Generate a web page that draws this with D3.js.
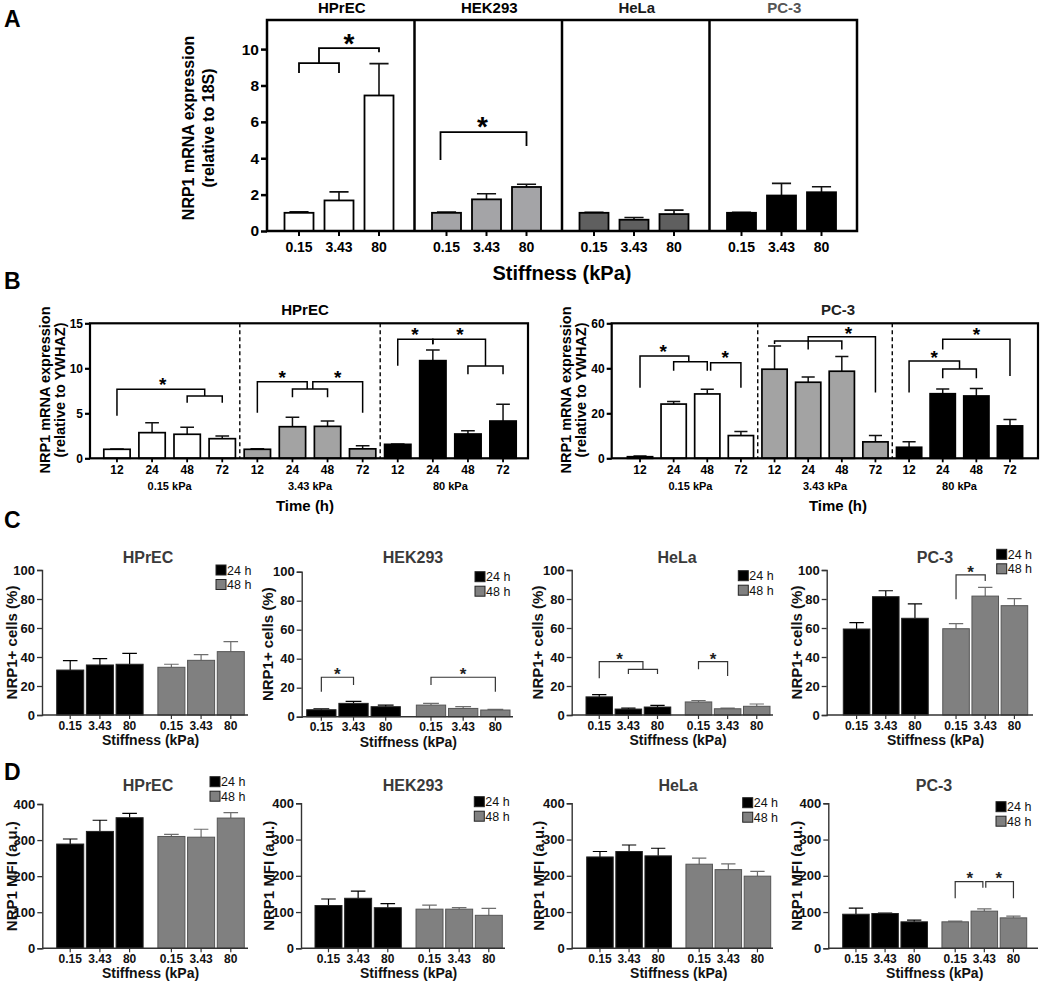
<!DOCTYPE html>
<html><head><meta charset="utf-8">
<script src="https://cdn.jsdelivr.net/npm/d3@7"></script>
<style>
body{margin:0;background:#fff}
svg{display:block}
text{font-family:"Liberation Sans",Arial,Helvetica,sans-serif}
</style>
</head><body>
<svg id="c" width="1059" height="985"></svg>
<script>
// ================= DATA =================
const stiffness = ["0.15","3.43","80"];
const cellLines = ["HPrEC","HEK293","HeLa","PC-3"];
const times = ["12","24","48","72"];
const bGroups = ["0.15 kPa","3.43 kPa","80 kPa"];
const hours = ["24 h","48 h"];

// Panel A : mean and upper error (top of SEM bar)
const aHPrEC = [1.0, 1.68, 7.45],  aHPrECErr = [1.05, 2.15, 9.2];
const aHEK293 = [1.0, 1.74, 2.42], aHEK293Err = [1.04, 2.05, 2.57];
const aHeLa = [1.0, 0.62, 0.93],   aHeLaErr = [1.03, 0.74, 1.15];
const aPC3 = [1.0, 1.95, 2.13],    aPC3Err = [1.03, 2.62, 2.43];
const aTicks = [0, 2, 4, 6, 8, 10];

// Panel B : HPrEC, times 12/24/48/72 per stiffness
const bHPrEC015 = [1.0, 2.85, 2.67, 2.18], bHPrEC015Err = [1.03, 3.96, 3.44, 2.48];
const bHPrEC343 = [1.0, 3.51, 3.55, 1.05], bHPrEC343Err = [1.05, 4.55, 4.14, 1.4];
const bHPrEC80  = [1.55, 10.85, 2.7, 4.14], bHPrEC80Err = [1.6, 12.03, 3.07, 6.0];
// Panel B : PC-3
const bPC3015 = [0.7, 24.1, 28.6, 10.1], bPC3015Err = [1.0, 25.2, 30.7, 11.9];
const bPC3343 = [39.6, 33.8, 38.7, 7.3], bPC3343Err = [49.9, 36.1, 45.2, 10.1];
const bPC380  = [4.9, 28.7, 27.7, 14.4], bPC380Err = [7.4, 30.8, 31.0, 17.3];
const bHPrECTicks = [0, 5, 10, 15];
const bPC3Ticks = [0, 20, 40, 60];

// Panel C : NRP1+ cells (%)
const cHPrEC24 = [31, 34.5, 35],   cHPrEC24Err = [37.5, 38.9, 42.5];
const cHPrEC48 = [32.9, 37.7, 43.7], cHPrEC48Err = [35, 41.6, 50.6];
const cHEK24 = [4.8, 9.2, 6.9],    cHEK24Err = [5.5, 10.6, 8.0];
const cHEK48 = [8.0, 5.7, 4.6],    cHEK48Err = [9.2, 6.9, 5.0];
const cHeLa24 = [12.5, 4.1, 5.5],  cHeLa24Err = [14.0, 4.8, 6.7];
const cHeLa48 = [9.0, 4.3, 6.0],   cHeLa48Err = [10.0, 4.8, 7.6];
const cPC324 = [59.3, 81.6, 66.7], cPC324Err = [63.7, 85.7, 76.6];
const cPC348 = [59.5, 82.0, 75.4], cPC348Err = [63.0, 88.0, 80.2];
const cTicks = [0, 20, 40, 60, 80, 100];

// Panel D : NRP1 MFI (a.u.)
const dHPrEC24 = [289, 324, 362], dHPrEC24Err = [303, 355, 374];
const dHPrEC48 = [310, 308, 361], dHPrEC48Err = [316, 330, 376];
const dHEK24 = [118, 138, 112],   dHEK24Err = [136, 158, 123];
const dHEK48 = [108, 108, 91],    dHEK48Err = [119, 112, 110];
const dHeLa24 = [252, 267, 255],  dHeLa24Err = [267, 285, 276];
const dHeLa48 = [232, 217, 199],  dHeLa48Err = [249, 233, 212];
const dPC324 = [94, 96, 73],      dPC324Err = [111, 97, 77.5];
const dPC348 = [73, 102.5, 84],   dPC348Err = [75, 109, 88.5];
const dTicks = [0, 100, 200, 300, 400];

// Significance brackets: polylines of [bar index, value]; stars: [bar index, value]
const sigAHPrEC = [[[0,8.68],[0,9.23],[1,9.23],[1,8.68]], [[0.5,9.23],[0.5,10.05],[2,10.05],[2,9.83]]];
const starAHPrEC = [[1.25,10.66]];
const sigAHEK = [[[-0.15,3.9],[-0.15,5.44],[2,5.44],[2,4.67]]];
const starAHEK = [[0.9,6.1]];

const sigBHPrEC = [
  [[0,4.73],[0,7.67],[2.5,7.67],[2.5,6.92]],
  [[2,6.18],[2,6.92],[3,6.92],[3,6.18]],
  [[4,5.07],[4,8.51],[5.42,8.51],[5.42,7.7]],
  [[5,6.78],[5,7.7],[6,7.7],[6,6.78]],
  [[5.58,7.7],[5.58,8.51],[7,8.51],[7,5.07]],
  [[8,10.29],[8,13.22],[9,13.22],[9,12.67]],
  [[9,12.67],[9,13.22],[10.5,13.22],[10.5,10.26]],
  [[10,9.33],[10,10.26],[11,10.26],[11,9.33]]
];
const starBHPrEC = [[1.3,8.7],[4.71,9.48],[6.29,9.48],[8.49,14.26],[9.77,14.26]];
const sigBPC3 = [
  [[0,31.4],[0,45.5],[1.45,45.5],[1.45,42.9]],
  [[1,38.9],[1,42.9],[2,42.9],[2,38.9]],
  [[2.1,38.9],[2.1,42.5],[3,42.5],[3,31.4]],
  [[4,50.8],[4,52.1],[6,52.1],[6,48.4]],
  [[5,48.4],[5,54.0],[7,54.0],[7,29.2]],
  [[8,29.2],[8,43.2],[9.5,43.2],[9.5,39.7]],
  [[9,35.6],[9,39.7],[10,39.7],[10,35.6]],
  [[9,48.4],[9,52.9],[11,52.9],[11,36.6]]
];
const starBPC3 = [[0.69,49.3],[2.53,46.7],[6.2,57.4],[8.75,46.7],[10,57.0]];

const sigCHEK = [[[0,17.2],[0,27.2],[1,27.2],[1,21.9]], [[3,21.9],[3,27.2],[5,27.2],[5,17.2]]];
const starCHEK = [[0.5,31.7],[4,31.7]];
const sigCHeLa = [[[0,25.3],[0,36.8],[1.5,36.8],[1.5,31.5]], [[1,28.3],[1,31.5],[2,31.5],[2,28.3]], [[3,31.5],[3,36.8],[4,36.8],[4,26.9]]];
const starCHeLa = [[0.7,41.4],[3.5,41.4]];
const sigCPC3 = [[[3,79.8],[3,96.6],[4,96.6],[4,92.4]]];
const starCPC3 = [[3.5,101.2]];
const sigDPC3 = [[[3,137.9],[3,183.7],[3.95,183.7],[3.95,167.2]], [[4.05,167.2],[4.05,183.7],[5,183.7],[5,137.9]]];
const starDPC3 = [[3.5,205],[4.5,205]];

// ================= DRAWING =================
const svg = d3.select("#c");

function txt(g, x, y, s, o = {}) {
  return g.append("text").attr("x", x).attr("y", y).text(s)
    .attr("font-size", o.size || 12).attr("font-weight", o.weight || "bold")
    .attr("text-anchor", o.anchor || "middle").attr("fill", o.fill || "#000");
}
function vtxt(g, x, y, s, o = {}) {
  return g.append("text").attr("transform", `translate(${x},${y}) rotate(-90)`)
    .attr("dy", "0.35em").text(s)
    .attr("font-size", o.size || 12).attr("font-weight", o.weight || "bold")
    .attr("text-anchor", "middle").attr("fill", o.fill || "#000");
}
function star(g, x, cy, fs, fill) {
  txt(g, x, cy + 0.57 * fs, "*", {size: fs, fill: fill || "#000"});
}
const line = d3.line();

// panel letters
txt(svg, 4, 27, "A", {size: 23, anchor: "start"});
txt(svg, 4, 289, "B", {size: 23, anchor: "start"});
txt(svg, 4, 528, "C", {size: 23, anchor: "start"});
txt(svg, 4, 780, "D", {size: 23, anchor: "start"});

// ---------- Panel A ----------
(function() {
  const g = svg.append("g");
  const L = 267, R = 857, T = 20, B = 231;
  const y = d3.scaleLinear().domain([0, 11.6]).range([B, T]);
  const p = d3.scaleBand().domain(cellLines).range([L, R]);
  const series = [
    {m: aHPrEC, e: aHPrECErr, fill: "#fff", tcol: "#000", sig: sigAHPrEC, stars: starAHPrEC},
    {m: aHEK293, e: aHEK293Err, fill: "#a4a4a7", tcol: "#000", sig: sigAHEK, stars: starAHEK},
    {m: aHeLa, e: aHeLaErr, fill: "#5f5f5f", tcol: "#1a1a1a", sig: [], stars: []},
    {m: aPC3, e: aPC3Err, fill: "#000", tcol: "#555", sig: [], stars: []}
  ];
  series.forEach((s, si) => {
    const pl = p(cellLines[si]);
    const x = d3.scaleBand().domain(stiffness).range([pl + 17.5, pl + 126.5]).paddingInner(0.275);
    const bw = x.bandwidth();
    const cx = i => x(stiffness[0]) + bw / 2 + i * x.step();
    g.selectAll(null).data(stiffness).enter().append("path")
      .attr("d", (k, i) => line([[cx(i), y(s.m[i])], [cx(i), y(s.e[i])]]) + "M" + (cx(i) - bw * 0.33) + "," + y(s.e[i]) + "H" + (cx(i) + bw * 0.33))
      .attr("stroke", "#111").attr("stroke-width", 1.6).attr("fill", "none");
    g.selectAll(null).data(stiffness).enter().append("rect")
      .attr("x", k => x(k)).attr("width", bw)
      .attr("y", (k, i) => y(s.m[i])).attr("height", (k, i) => y(0) - y(s.m[i]))
      .attr("fill", s.fill).attr("stroke", "#000").attr("stroke-width", 1.8);
    stiffness.forEach((k, i) => {
      g.append("line").attr("x1", cx(i)).attr("x2", cx(i)).attr("y1", B).attr("y2", B + 5)
        .attr("stroke", "#000").attr("stroke-width", 2);
      txt(g, cx(i), 252, k, {size: 14});
    });
    s.sig.forEach(pl2 => g.append("path").attr("d", line(pl2.map(d => [cx(d[0]), y(d[1])])))
      .attr("fill", "none").attr("stroke", "#000").attr("stroke-width", 1.8));
    s.stars.forEach(d => star(g, cx(d[0]), y(d[1]), 28));
    txt(g, pl + p.bandwidth() / 2 + 1, 13, cellLines[si], {size: 15, fill: s.tcol});
  });
  g.append("rect").attr("x", L).attr("y", T).attr("width", R - L).attr("height", B - T)
    .attr("fill", "none").attr("stroke", "#000").attr("stroke-width", 2.5);
  cellLines.slice(1).forEach(c => g.append("line").attr("x1", p(c)).attr("x2", p(c))
    .attr("y1", T).attr("y2", B).attr("stroke", "#000").attr("stroke-width", 2.5));
  const ax = g.append("g").attr("transform", `translate(${L},0)`)
    .call(d3.axisLeft(y).tickValues(aTicks).tickSize(6).tickPadding(2));
  ax.select(".domain").remove();
  ax.selectAll(".tick line").attr("stroke-width", 2.5);
  ax.selectAll("text").attr("font-size", 15.5).attr("font-weight", "bold")
    .attr("font-family", '"Liberation Sans",Arial,sans-serif');
  txt(g, 562, 280, "Stiffness (kPa)", {size: 20});
  vtxt(g, 188, 128, "NRP1 mRNA expression", {size: 16});
  vtxt(g, 208, 128, "(relative to 18S)", {size: 16});
})();

// ---------- Panel B ----------
function drawB(c) {
  const g = svg.append("g");
  const y = d3.scaleLinear().domain([0, c.ymax]).range([c.B, c.T]);
  const idx = d3.range(12);
  const x = d3.scaleBand().domain(idx).range([c.rL, c.rR]).paddingInner(0.25);
  const bw = x.bandwidth();
  const cx = i => x(0) + bw / 2 + i * x.step();
  const cols = ["#fff", "#a3a3a3", "#000"];
  const bars = [];
  c.series.forEach((s, gi) => s[0].forEach((v, ti) => bars.push({i: gi * 4 + ti, v, e: s[1][ti], fill: cols[gi], t: times[ti]})));
  g.selectAll(null).data(bars).enter().append("path")
    .attr("d", d => `M${cx(d.i)},${y(d.v)}V${y(d.e)}M${cx(d.i) - bw * 0.26},${y(d.e)}H${cx(d.i) + bw * 0.26}`)
    .attr("stroke", "#111").attr("stroke-width", 1.5).attr("fill", "none");
  g.selectAll(null).data(bars).enter().append("rect")
    .attr("x", d => x(d.i)).attr("width", bw)
    .attr("y", d => y(d.v)).attr("height", d => y(0) - y(d.v))
    .attr("fill", d => d.fill).attr("stroke", "#000").attr("stroke-width", 1.7);
  bars.forEach(d => {
    g.append("line").attr("x1", cx(d.i)).attr("x2", cx(d.i)).attr("y1", c.B).attr("y2", c.B + 4)
      .attr("stroke", "#000").attr("stroke-width", 1.8);
    txt(g, cx(d.i), 474, d.t, {size: 12});
  });
  bGroups.forEach((gl, gi) => txt(g, cx(gi * 4 + 1.5), 490, gl, {size: 11}));
  [3.5, 7.5].forEach(v => g.append("line").attr("x1", cx(v)).attr("x2", cx(v))
    .attr("y1", c.T).attr("y2", c.B).attr("stroke", "#000").attr("stroke-width", 1.4)
    .attr("stroke-dasharray", "4,3"));
  c.sig.forEach(pl => g.append("path").attr("d", line(pl.map(d => [cx(d[0]), y(d[1])])))
    .attr("fill", "none").attr("stroke", "#000").attr("stroke-width", 1.5));
  c.stars.forEach(d => star(g, cx(d[0]), y(d[1]), 19));
  g.append("rect").attr("x", c.L).attr("y", c.T).attr("width", c.R - c.L).attr("height", c.B - c.T)
    .attr("fill", "none").attr("stroke", "#000").attr("stroke-width", 2.2);
  const ax = g.append("g").attr("transform", `translate(${c.L},0)`)
    .call(d3.axisLeft(y).tickValues(c.ticks).tickSize(5).tickPadding(2));
  ax.select(".domain").remove();
  ax.selectAll(".tick line").attr("stroke-width", 2.2);
  ax.selectAll("text").attr("font-size", 12).attr("font-weight", "bold")
    .attr("font-family", '"Liberation Sans",Arial,sans-serif');
  txt(g, c.titleX, 315, c.title, {size: 15, fill: c.tcol});
  txt(g, c.titleX, 511, "Time (h)", {size: 15});
  vtxt(g, c.ylx[0], 390, "NRP1 mRNA expression", {size: 14.5});
  vtxt(g, c.ylx[1], 390, "(relative to YWHAZ)", {size: 14.5});
}
drawB({L: 90, R: 528, T: 323.3, B: 458.3, rL: 103.8, rR: 516.2, ymax: 15, ticks: bHPrECTicks,
  series: [[bHPrEC015, bHPrEC015Err], [bHPrEC343, bHPrEC343Err], [bHPrEC80, bHPrEC80Err]],
  sig: sigBHPrEC, stars: starBHPrEC, title: "HPrEC", titleX: 305, tcol: "#000", ylx: [45, 60]});
drawB({L: 611.7, R: 1038, T: 323.3, B: 458.3, rL: 627.4, rR: 1022.6, ymax: 60, ticks: bPC3Ticks,
  series: [[bPC3015, bPC3015Err], [bPC3343, bPC3343Err], [bPC380, bPC380Err]],
  sig: sigBPC3, stars: starBPC3, title: "PC-3", titleX: 838, tcol: "#222", ylx: [566, 581]});

// ---------- Panels C & D ----------
function drawCD(c) {
  const g = svg.append("g");
  const y = d3.scaleLinear().domain([0, c.ymax]).range([c.B, c.T]);
  const gx = d3.scaleBand().domain(hours).range([c.bL, c.bR]).paddingInner(0.146);
  const ix = d3.scaleBand().domain(stiffness).range([0, gx.bandwidth()]).paddingInner(0.09);
  const bw = ix.bandwidth();
  const bars = [];
  [c.s24, c.s48].forEach((s, hi) => stiffness.forEach((k, ki) =>
    bars.push({i: hi * 3 + ki, x: gx(hours[hi]) + ix(k), v: s[0][ki], e: s[1][ki], h: hi, k})));
  const centers = bars.map(d => d.x + bw / 2);
  const cx = v => { const a = Math.floor(v), b = Math.ceil(v);
    if (a === b) return centers[Math.max(0, Math.min(5, a))];
    return centers[a] + (centers[b] - centers[a]) * (v - a); };
  const fills = ["#000", "#808080"], strokes = ["#222", "#555"], ecol = ["#000", "#6e6e6e"];
  g.selectAll(null).data(bars).enter().append("path")
    .attr("d", d => `M${centers[d.i]},${y(d.v)}V${y(d.e)}M${centers[d.i] - bw * 0.27},${y(d.e)}H${centers[d.i] + bw * 0.27}`)
    .attr("stroke", d => ecol[d.h]).attr("stroke-width", 1.2).attr("fill", "none");
  g.selectAll(null).data(bars).enter().append("rect")
    .attr("x", d => d.x).attr("width", bw)
    .attr("y", d => y(d.v)).attr("height", d => y(0) - y(d.v))
    .attr("fill", d => fills[d.h]).attr("stroke", d => strokes[d.h]).attr("stroke-width", 1);
  g.append("line").attr("x1", c.aX).attr("x2", c.aE).attr("y1", c.B).attr("y2", c.B)
    .attr("stroke", "#333").attr("stroke-width", 1.4);
  const ax = g.append("g").attr("transform", `translate(${c.aX},0)`)
    .call(d3.axisLeft(y).tickValues(c.ticks).tickSize(5).tickPadding(2));
  ax.select(".domain").attr("stroke", "#333").attr("stroke-width", 1.4);
  ax.selectAll(".tick line").attr("stroke", "#333").attr("stroke-width", 1.3);
  ax.selectAll("text").attr("font-size", 13).attr("font-weight", "bold")
    .attr("font-family", '"Liberation Sans",Arial,sans-serif').attr("fill", "#111");
  bars.forEach(d => {
    g.append("line").attr("x1", centers[d.i]).attr("x2", centers[d.i]).attr("y1", c.B).attr("y2", c.B + 4)
      .attr("stroke", "#333").attr("stroke-width", 1.2);
    txt(g, centers[d.i], c.B + 14.5, d.k, {size: 12, fill: "#111"});
  });
  txt(g, (c.bL + c.bR) / 2, c.B + 30, "Stiffness (kPa)", {size: 14, fill: "#111"});
  vtxt(g, c.ylx, (c.T + c.B) / 2, c.ylab, {size: 15, fill: "#111"});
  txt(g, c.tX, c.tY, c.title, {size: 16, fill: "#3a3a3a"});
  hours.forEach((h, hi) => {
    g.append("rect").attr("x", c.lX).attr("y", c.lY + hi * 14.5).attr("width", 10).attr("height", 10)
      .attr("fill", fills[hi]).attr("stroke", "#222").attr("stroke-width", 1);
    txt(g, c.lX + 11, c.lY + hi * 14.5 + 9.5, h, {size: 12.5, weight: "normal", anchor: "start", fill: "#111"});
  });
  (c.sig || []).forEach(pl => g.append("path").attr("d", line(pl.map(d => [cx(d[0]), y(d[1])])))
    .attr("fill", "none").attr("stroke", "#333").attr("stroke-width", 1.2));
  (c.stars || []).forEach(d => star(g, cx(d[0]), y(d[1]), 17, "#222"));
}
const cY = "NRP1+ cells (%)", dY = "NRP1 MFI (a.u.)";
drawCD({aX: 42, aE: 248, T: 570, B: 715, ymax: 100, ticks: cTicks, bL: 56.7, bR: 244.3,
  s24: [cHPrEC24, cHPrEC24Err], s48: [cHPrEC48, cHPrEC48Err], title: "HPrEC", tX: 148, tY: 563,
  lX: 216, lY: 565, ylx: 12, ylab: cY});
drawCD({aX: 301.7, aE: 513, T: 571.7, B: 716.7, ymax: 100, ticks: cTicks, bL: 306.7, bR: 510,
  s24: [cHEK24, cHEK24Err], s48: [cHEK48, cHEK48Err], title: "HEK293", tX: 413, tY: 563,
  lX: 475, lY: 571.7, ylx: 268, ylab: cY, sig: sigCHEK, stars: starCHEK});
drawCD({aX: 571.7, aE: 773, T: 570, B: 715, ymax: 100, ticks: cTicks, bL: 586, bR: 770,
  s24: [cHeLa24, cHeLa24Err], s48: [cHeLa48, cHeLa48Err], title: "HeLa", tX: 677, tY: 563,
  lX: 738.3, lY: 570.7, ylx: 538, ylab: cY, sig: sigCHeLa, stars: starCHeLa});
drawCD({aX: 826.7, aE: 1033, T: 570, B: 715, ymax: 100, ticks: cTicks, bL: 843.3, bR: 1027.7,
  s24: [cPC324, cPC324Err], s48: [cPC348, cPC348Err], title: "PC-3", tX: 935, tY: 563,
  lX: 996.7, lY: 549.3, ylx: 797, ylab: cY, sig: sigCPC3, stars: starCPC3});

drawCD({aX: 42.3, aE: 248, T: 804, B: 948.3, ymax: 400, ticks: dTicks, bL: 56.7, bR: 244.3,
  s24: [dHPrEC24, dHPrEC24Err], s48: [dHPrEC48, dHPrEC48Err], title: "HPrEC", tX: 148, tY: 791,
  lX: 210, lY: 776.7, ylx: 12, ylab: dY});
drawCD({aX: 301, aE: 505, T: 803.3, B: 948.3, ymax: 400, ticks: dTicks, bL: 315, bR: 502.3,
  s24: [dHEK24, dHEK24Err], s48: [dHEK48, dHEK48Err], title: "HEK293", tX: 413, tY: 791,
  lX: 474.3, lY: 796.7, ylx: 269, ylab: dY});
drawCD({aX: 571.7, aE: 773, T: 803.3, B: 948.3, ymax: 400, ticks: dTicks, bL: 586.7, bR: 770.7,
  s24: [dHeLa24, dHeLa24Err], s48: [dHeLa48, dHeLa48Err], title: "HeLa", tX: 678, tY: 791,
  lX: 742.7, lY: 797.7, ylx: 539, ylab: dY});
drawCD({aX: 828.3, aE: 1038, T: 803.3, B: 948.3, ymax: 400, ticks: dTicks, bL: 842.7, bR: 1026.7,
  s24: [dPC324, dPC324Err], s48: [dPC348, dPC348Err], title: "PC-3", tX: 934, tY: 791,
  lX: 996, lY: 801.7, ylx: 797, ylab: dY, sig: sigDPC3, stars: starDPC3});
</script>
</body></html>
